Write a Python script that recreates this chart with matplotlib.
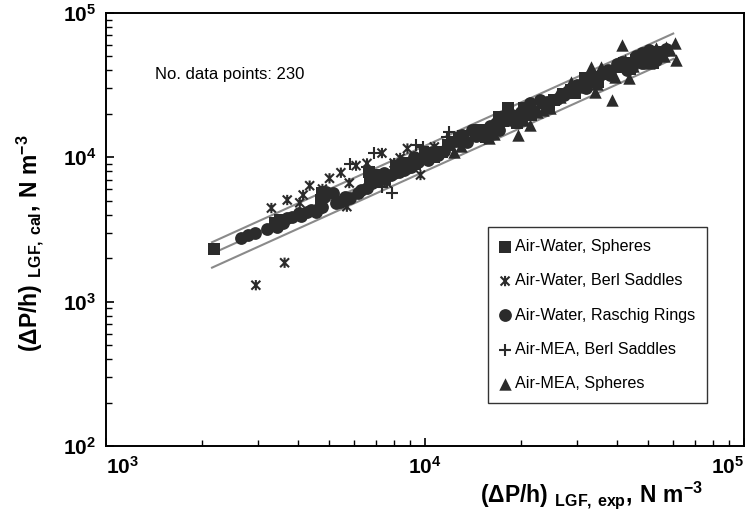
import matplotlib
matplotlib.use("Agg")
import matplotlib.pyplot as plt
from matplotlib.path import Path

plt.rcParams['font.family'] = ['Liberation Sans', 'DejaVu Sans']
plt.rcParams['mathtext.fontset'] = 'custom'
plt.rcParams['mathtext.rm'] = 'Liberation Sans'
plt.rcParams['mathtext.bf'] = 'Liberation Sans:bold'

aw_spheres_x = [2180, 3390, 3510, 4720, 4770, 6730, 6670, 7080, 7500, 8100, 8420, 8810,
                9300, 9970, 10100, 10700, 11300, 11800, 12800, 13200, 14400, 14800, 15500,
                16200, 17100, 17500, 18200, 18500, 19400, 20500, 21500, 23500, 24500, 25400,
                27000, 28700, 29500, 31700, 33000, 34800, 36500, 40500, 42000, 44000, 45700,
                47000, 49200, 51700, 53500]
aw_spheres_y = [2300, 3490, 3680, 5060, 5630, 7150, 7950, 7540, 7100, 8700, 8610, 9070,
                9000, 10660, 9700, 10100, 10900, 12200, 13500, 14000, 14700, 15500, 13900,
                15000, 19100, 17800, 21900, 18100, 17200, 22000, 19500, 23700, 23000, 24900,
                27500, 29300, 28000, 35300, 35000, 33400, 38000, 42500, 45000, 41000, 47200,
                47500, 49800, 44800, 54000]

aw_berl_x = [2950, 3630, 3300, 3700, 4050, 4150, 4350, 4770, 5020, 5450, 5790, 5690,
             6080, 6580, 7330, 8000, 8360, 7600, 9680, 8810, 10700]
aw_berl_y = [1300, 1860, 4450, 5060, 4840, 5480, 6360, 6030, 7150, 7820, 6630, 4550,
             8750, 9070, 10700, 9120, 9890, 6630, 7540, 11500, 11800]

aw_raschig_x = [2650, 2790, 2930, 3200, 3430, 3600, 3700, 3830, 4030, 4100, 4270, 4400,
                4550, 4650, 4770, 4820, 4900, 5150, 5250, 5400, 5600, 5820, 6170, 6300,
                6580, 6800, 6980, 7200, 7430, 7800, 8000, 8300, 8590, 8800, 9040, 9270,
                9500, 10200, 10500, 11000, 11500, 11970, 12500, 13050, 13500, 14050, 14500,
                15100, 16000, 16700, 17000, 17600, 18800, 20000, 21300, 22000, 23000, 24100,
                26000, 27300, 28000, 30000, 32000, 33100, 35000, 37500, 38000, 40000, 41500,
                43000, 44600, 46000, 47900, 48000, 50400, 52000, 53000, 55000, 57000]
aw_raschig_y = [2760, 2900, 2970, 3200, 3300, 3490, 3800, 3870, 4090, 3950, 4200, 4300,
                4200, 4450, 4550, 5330, 5780, 5630, 4800, 4930, 5350, 5200, 5630, 5900,
                6100, 6600, 7350, 7000, 7750, 7500, 7750, 7900, 8170, 8400, 8610, 10100,
                9300, 9580, 10800, 10400, 11000, 12500, 13000, 14300, 12800, 15500, 14000,
                15500, 16500, 17200, 15500, 19100, 19500, 20500, 23700, 21000, 25000, 24300,
                25500, 27000, 29000, 31500, 30000, 34400, 36500, 40300, 37000, 44000, 46000,
                40000, 42500, 50000, 52600, 45000, 55500, 51000, 47200, 52000, 56000]

mea_berl_x = [5820, 6580, 6900, 7330, 7600, 7890, 9380, 9860, 11700, 11870]
mea_berl_y = [9000, 8610, 10660, 6250, 6970, 5660, 12200, 11800, 13900, 15000]

mea_spheres_x = [12300, 13000, 15900, 16500, 17900, 19500, 20500, 21300, 22500, 23500,
                 24700, 25900, 26500, 28700, 29500, 30800, 31500, 33100, 34100, 34500,
                 35700, 36500, 38500, 38700, 39500, 41500, 42500, 43500, 45000, 46900,
                 48000, 50400, 51000, 53000, 54200, 55600, 56000, 56900, 58500, 60700, 61400]
mea_spheres_y = [10900, 12000, 13500, 14500, 18100, 14300, 18000, 16800, 20500, 21200,
                 21900, 27000, 26000, 33400, 31000, 30800, 33000, 42500, 28500, 32000,
                 42500, 39000, 24900, 38200, 36000, 60000, 47000, 35300, 43000, 49800,
                 53000, 44800, 48000, 57000, 51200, 55500, 50000, 58500, 55000, 61600, 47200]

# parity line and +/-20 % band
band_x = [2150, 60000]
band_factors = [1.2, 1.0, 0.8]

tick_values = [1e2, 1e3, 1e4, 1e5]
tick_labels = [r'$\mathbf{10^{2}}$', r'$\mathbf{10^{3}}$', r'$\mathbf{10^{4}}$', r'$\mathbf{10^{5}}$']

# asterisk marker: an X crossed by a vertical bar
star = Path([(-1, -1), (1, 1), (-1, 1), (1, -1), (0, -1.15), (0, 1.15)],
            [Path.MOVETO, Path.LINETO, Path.MOVETO, Path.LINETO, Path.MOVETO, Path.LINETO])

fig = plt.figure(figsize=(7.5, 5.18), dpi=100)
ax = fig.add_axes([0.1413, 0.139, 0.8507, 0.836])

for f in band_factors:
    ax.plot(band_x, [v * f for v in band_x], color='#8a8a8a', lw=1.5, zorder=1)

dark = '#2b2b2b'
ax.scatter(aw_spheres_x, aw_spheres_y, marker='s', s=70, color=dark, lw=0,
           label='Air-Water, Spheres', zorder=3)
ax.scatter(aw_berl_x, aw_berl_y, marker=star, s=55, facecolor='none', edgecolor=dark,
           lw=1.5, label='Air-Water, Berl Saddles', zorder=3)
ax.scatter(aw_raschig_x, aw_raschig_y, marker='o', s=85, color=dark, lw=0,
           label='Air-Water, Raschig Rings', zorder=3)
ax.scatter(mea_berl_x, mea_berl_y, marker='+', s=85, color=dark, lw=1.5,
           label='Air-MEA, Berl Saddles', zorder=3)
ax.scatter(mea_spheres_x, mea_spheres_y, marker='^', s=80, color=dark, lw=0,
           label='Air-MEA, Spheres', zorder=3)

ax.set_xscale('log')
ax.set_yscale('log')
ax.set_xlim(1e3, 1e5)
ax.set_ylim(1e2, 1e5)
ax.set_xticks(tick_values[1:])
ax.set_xticklabels(tick_labels[1:])
ax.set_yticks(tick_values)
ax.set_yticklabels(tick_labels)
ax.tick_params(which='both', direction='in', top=False, right=False, color='black')
ax.tick_params(which='major', length=6, width=1.2, labelsize=15, pad=7)
ax.tick_params(which='minor', length=4, width=1.0)
ax.get_xticklabels()[0].set_horizontalalignment('left')
ax.get_xticklabels()[-1].set_horizontalalignment('right')
for sp in ax.spines.values():
    sp.set_linewidth(1.4)

ax.text(0.077, 0.857, 'No. data points: 230', transform=ax.transAxes, fontsize=12,
        va='center', ha='left')

ax.text(0.935, -0.113,
        r'$\mathbf{(\Delta P/h)\ }_{\mathbf{LGF,\,exp}}\mathbf{,\,N\;m^{-3}}$',
        transform=ax.transAxes, ha='right', va='center', fontsize=16.5)
ax.text(-0.118, 0.469,
        r'$\mathbf{(\Delta P/h)\ }_{\mathbf{LGF,\,cal}}\mathbf{,\,N\;m^{-3}}$',
        transform=ax.transAxes, ha='center', va='center', rotation=90, fontsize=16.5)

leg = ax.legend(loc='upper left', bbox_to_anchor=(0.599, 0.506), fontsize=11.6,
                frameon=True, fancybox=False, edgecolor='black', labelspacing=1.2,
                handlelength=0.6, handletextpad=0.3, borderpad=0.75, borderaxespad=0,
                scatterpoints=1)
leg.get_frame().set_linewidth(1.0)

fig.savefig('out.png', dpi=100)
